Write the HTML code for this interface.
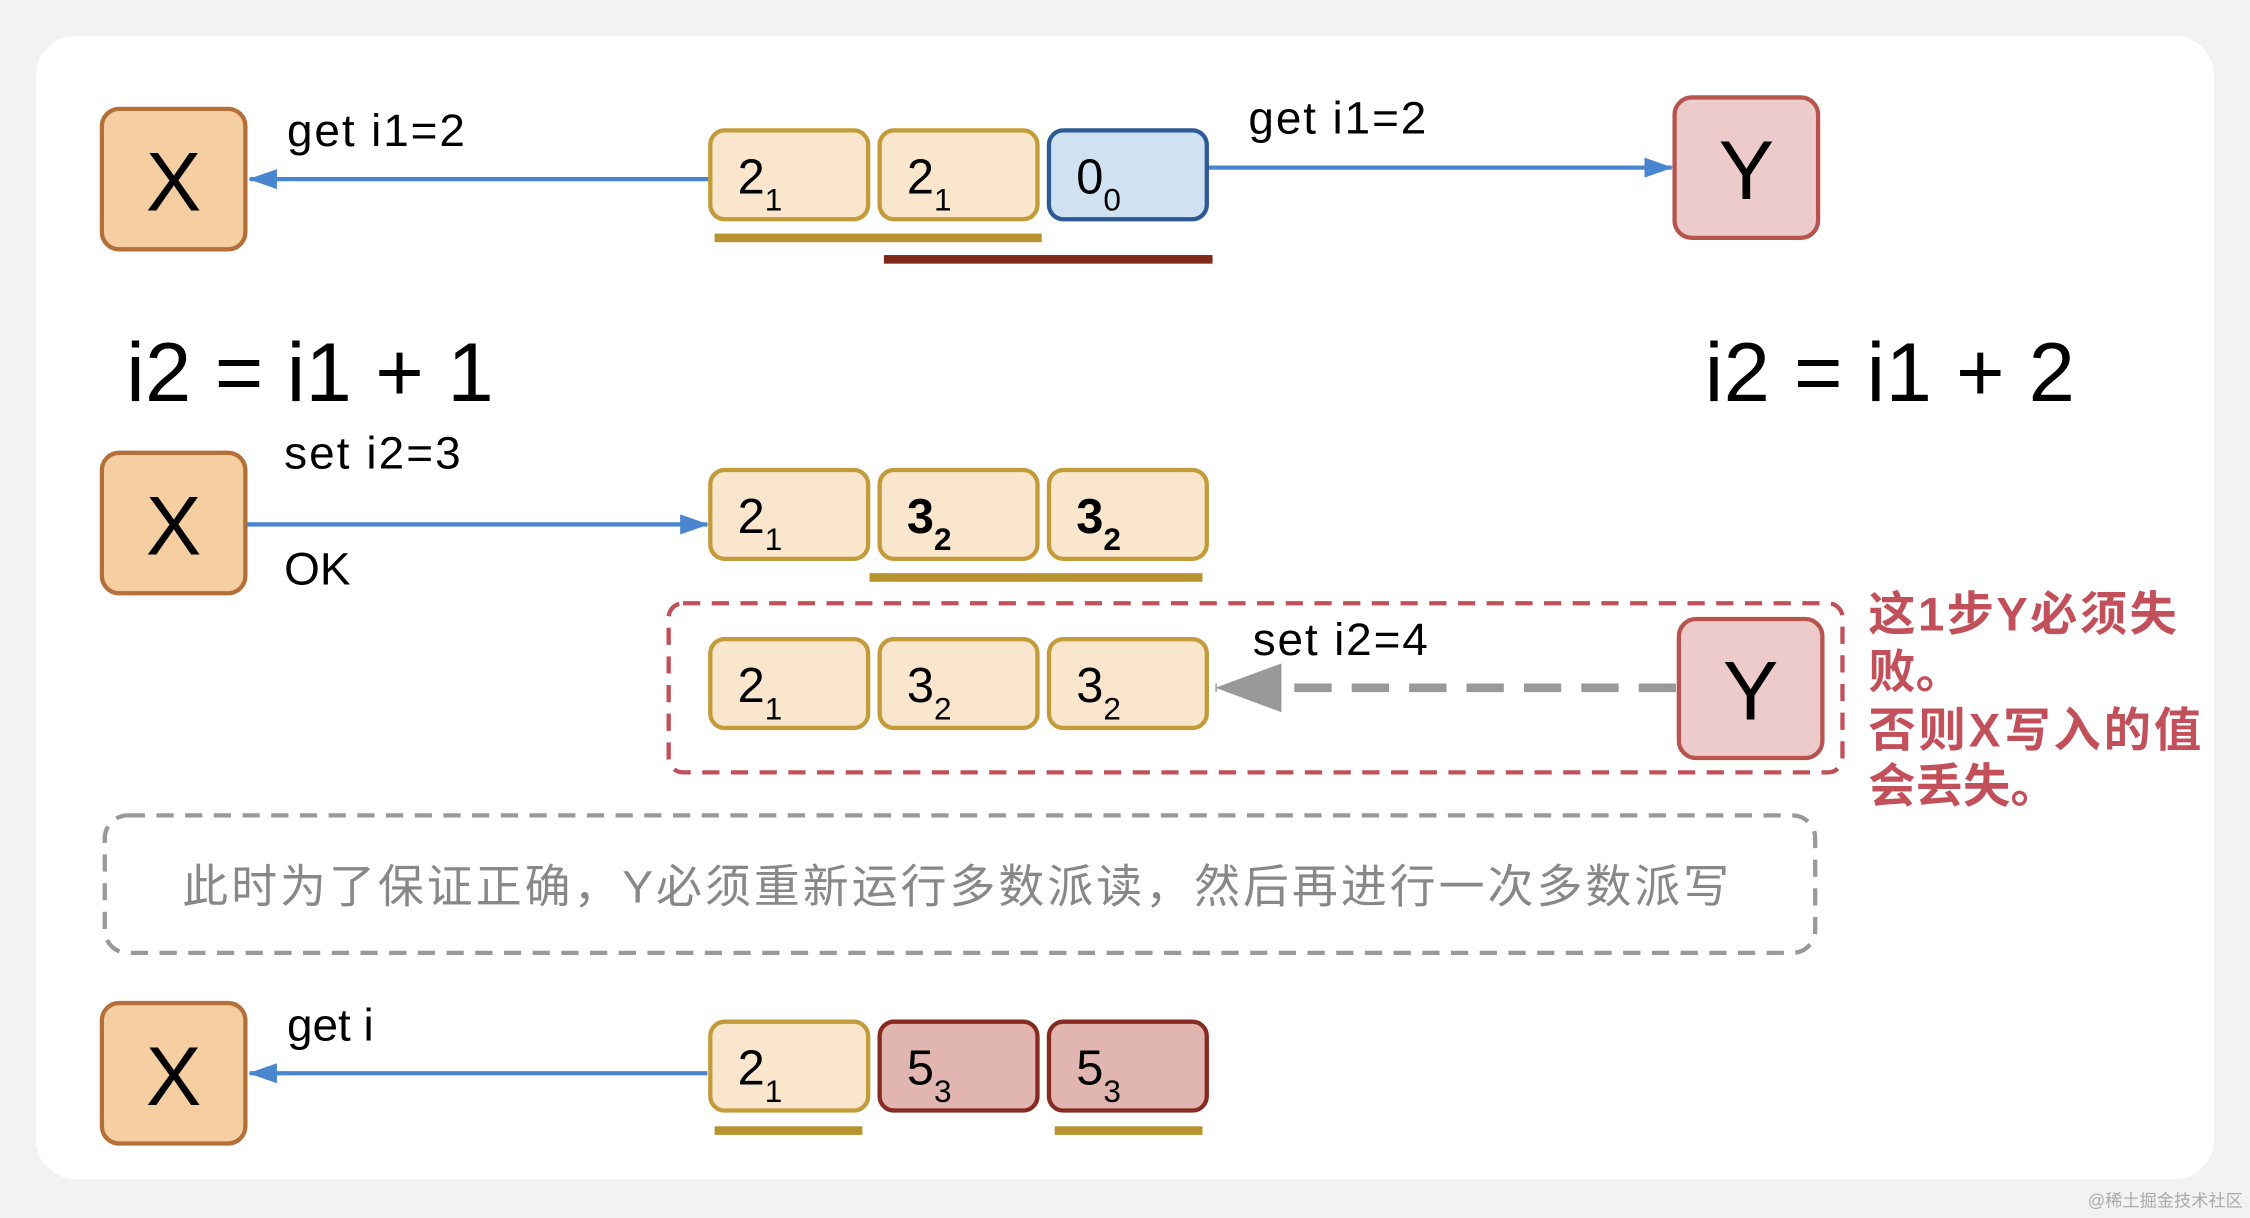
<!DOCTYPE html>
<html><head><meta charset="utf-8"><style>
html,body{margin:0;padding:0;background:#f2f2f2;}
svg{display:block;}
text{font-family:"Liberation Sans","Noto Sans CJK SC",sans-serif;}
</style></head><body>
<svg width="2250" height="1218" viewBox="0 0 1568 850" preserveAspectRatio="none" xmlns="http://www.w3.org/2000/svg">
<defs>
<marker id="ab" markerWidth="20" markerHeight="16" refX="19" refY="8" orient="auto" markerUnits="userSpaceOnUse"><path d="M0,1 L20,8 L0,15 Z" fill="#4a86d0"/></marker>
<marker id="ag" markerWidth="48" markerHeight="34" refX="46" refY="17" orient="auto" markerUnits="userSpaceOnUse"><path d="M0,0 L46,17 L0,34 Z" fill="#999"/></marker>
</defs>
<rect x="0" y="0" width="1568" height="850" fill="#f2f2f2"/>
<rect x="25" y="25" width="1518" height="798" rx="28" fill="#fff"/>

<!-- row 1 -->
<rect x="71" y="76" width="100" height="98" rx="12" fill="#f5cfa1" stroke="#b5703a" stroke-width="3"/>
<text x="121" y="147" font-size="58" text-anchor="middle">X</text>
<text x="200" y="102" font-size="32" textLength="124">get i1=2</text>
<line x1="496" y1="125" x2="174" y2="125" stroke="#4a86d0" stroke-width="3" marker-end="url(#ab)"/>
<rect x="1167" y="68" width="100" height="98" rx="12" fill="#edcbcb" stroke="#b85450" stroke-width="3"/>
<text x="1217" y="139" font-size="58" text-anchor="middle">Y</text>
<text x="870" y="93" font-size="32" textLength="124">get i1=2</text>
<line x1="842" y1="117" x2="1165" y2="117" stroke="#4a86d0" stroke-width="3" marker-end="url(#ab)"/>
<g stroke-width="3">
<rect x="495" y="91" width="110" height="62" rx="10" fill="#f9e6cc" stroke="#c49b3a"/>
<rect x="613" y="91" width="110" height="62" rx="10" fill="#f9e6cc" stroke="#c49b3a"/>
<rect x="731" y="91" width="110" height="62" rx="10" fill="#d0e2f2" stroke="#2d5a94"/>
</g>
<text x="514" y="135" font-size="34">2<tspan font-size="22" dy="12">1</tspan></text>
<text x="632" y="135" font-size="34">2<tspan font-size="22" dy="12">1</tspan></text>
<text x="750" y="135" font-size="34">0<tspan font-size="22" dy="12">0</tspan></text>
<rect x="498" y="163" width="228" height="6" fill="#b8922e"/>
<rect x="616" y="178" width="229" height="6" fill="#7f2818"/>

<text x="88" y="280" font-size="58" textLength="256">i2 = i1 + 1</text>
<text x="1188" y="280" font-size="58" textLength="258">i2 = i1 + 2</text>

<!-- row 2 -->
<rect x="71" y="316" width="100" height="98" rx="12" fill="#f5cfa1" stroke="#b5703a" stroke-width="3"/>
<text x="121" y="387" font-size="58" text-anchor="middle">X</text>
<text x="198" y="327" font-size="32" textLength="123">set i2=3</text>
<text x="198" y="408" font-size="32">OK</text>
<line x1="172" y1="366" x2="493" y2="366" stroke="#4a86d0" stroke-width="3" marker-end="url(#ab)"/>
<g stroke-width="3" fill="#f9e6cc" stroke="#c49b3a">
<rect x="495" y="328" width="110" height="62" rx="10"/>
<rect x="613" y="328" width="110" height="62" rx="10"/>
<rect x="731" y="328" width="110" height="62" rx="10"/>
</g>
<text x="514" y="372" font-size="34">2<tspan font-size="22" dy="12">1</tspan></text>
<text x="632" y="372" font-size="34" font-weight="bold">3<tspan font-size="22" dy="12">2</tspan></text>
<text x="750" y="372" font-size="34" font-weight="bold">3<tspan font-size="22" dy="12">2</tspan></text>
<rect x="606" y="400" width="232" height="6" fill="#b8922e"/>

<!-- row 3 -->
<rect x="466" y="421" width="818" height="118" rx="10" fill="none" stroke="#c0505a" stroke-width="3" stroke-dasharray="12,8"/>
<g stroke-width="3" fill="#f9e6cc" stroke="#c49b3a">
<rect x="495" y="446" width="110" height="62" rx="10"/>
<rect x="613" y="446" width="110" height="62" rx="10"/>
<rect x="731" y="446" width="110" height="62" rx="10"/>
</g>
<text x="514" y="490" font-size="34">2<tspan font-size="22" dy="12">1</tspan></text>
<text x="632" y="490" font-size="34">3<tspan font-size="22" dy="12">2</tspan></text>
<text x="750" y="490" font-size="34">3<tspan font-size="22" dy="12">2</tspan></text>
<rect x="1170" y="432" width="100" height="97" rx="12" fill="#edcbcb" stroke="#b85450" stroke-width="3"/>
<text x="1220" y="502" font-size="58" text-anchor="middle">Y</text>
<text x="873" y="457" font-size="32" textLength="122">set i2=4</text>
<line x1="1168" y1="480" x2="847" y2="480" stroke="#999" stroke-width="6" stroke-dasharray="26,14" marker-end="url(#ag)"/>
<g fill="#c2505a" font-size="33" font-weight="bold">
<text x="1302" y="440" textLength="215">这1步Y必须失</text>
<text x="1302" y="480">败。</text>
<text x="1302" y="521" textLength="232">否则X写入的值</text>
<text x="1302" y="560">会丢失。</text>
</g>

<!-- note -->
<rect x="73" y="569" width="1192" height="96" rx="16" fill="none" stroke="#999" stroke-width="3" stroke-dasharray="12,8"/>
<text x="127" y="630" font-size="32" fill="#888" textLength="1078">此时为了保证正确，Y必须重新运行多数派读，然后再进行一次多数派写</text>

<!-- row 4 -->
<rect x="71" y="700" width="100" height="98" rx="12" fill="#f5cfa1" stroke="#b5703a" stroke-width="3"/>
<text x="121" y="771" font-size="58" text-anchor="middle">X</text>
<text x="200" y="726" font-size="32">get i</text>
<line x1="493" y1="749" x2="174" y2="749" stroke="#4a86d0" stroke-width="3" marker-end="url(#ab)"/>
<g stroke-width="3">
<rect x="495" y="713" width="110" height="62" rx="10" fill="#f9e6cc" stroke="#c49b3a"/>
<rect x="613" y="713" width="110" height="62" rx="10" fill="#e1b6b1" stroke="#862b22"/>
<rect x="731" y="713" width="110" height="62" rx="10" fill="#e1b6b1" stroke="#862b22"/>
</g>
<text x="514" y="757" font-size="34">2<tspan font-size="22" dy="12">1</tspan></text>
<text x="632" y="757" font-size="34">5<tspan font-size="22" dy="12">3</tspan></text>
<text x="750" y="757" font-size="34">5<tspan font-size="22" dy="12">3</tspan></text>
<rect x="498" y="786" width="103" height="6" fill="#b8922e"/>
<rect x="735" y="786" width="103" height="6" fill="#b8922e"/>

<text x="1563" y="842" font-size="12" fill="#aaa" text-anchor="end">@稀土掘金技术社区</text>
</svg>
</body></html>
